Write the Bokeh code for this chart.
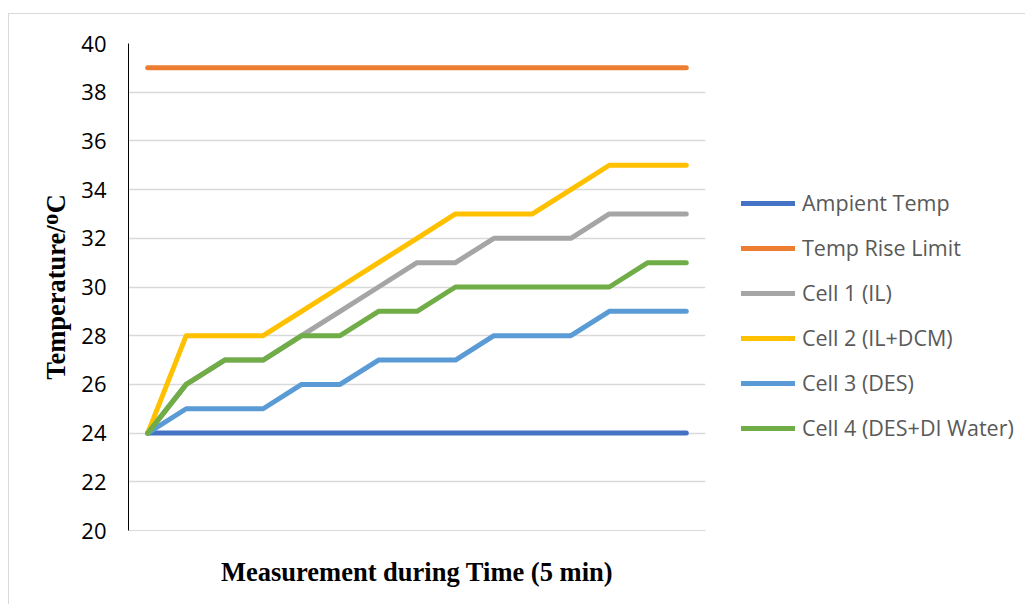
from bokeh.plotting import figure
from bokeh.models import Range1d, FixedTicker, Legend, LegendItem
from bokeh.embed import file_html
from bokeh.resources import INLINE

# ---- data ----
steps = list(range(15))
ambient = [24, 24, 24, 24, 24, 24, 24, 24, 24, 24, 24, 24, 24, 24, 24]
limit = [39, 39, 39, 39, 39, 39, 39, 39, 39, 39, 39, 39, 39, 39, 39]
cell1 = [24, 26, 27, 27, 28, 29, 30, 31, 31, 32, 32, 32, 33, 33, 33]
cell2 = [24, 28, 28, 28, 29, 30, 31, 32, 33, 33, 33, 34, 35, 35, 35]
cell3 = [24, 25, 25, 25, 26, 26, 27, 27, 27, 28, 28, 28, 29, 29, 29]
cell4 = [24, 26, 27, 27, 28, 28, 29, 29, 30, 30, 30, 30, 30, 31, 31]
names = ["Ampient Temp", "Temp Rise Limit", "Cell 1 (IL)", "Cell 2 (IL+DCM)",
         "Cell 3 (DES)", "Cell 4 (DES+DI Water)"]
colors = ["#4472C4", "#ED7D31", "#A5A5A5", "#FFC000", "#5B9BD5", "#70AD47"]
y_ticks = [20, 22, 24, 26, 28, 30, 32, 34, 36, 38, 40]
x_title = "Measurement during Time (5 min)"
y_title = "Temperature/\u1D3CC"

series = [ambient, limit, cell1, cell2, cell3, cell4]

p = figure(frame_width=577, frame_height=487, output_backend="svg",
           toolbar_location=None,
           x_range=Range1d(-0.5, 14.5), y_range=Range1d(20, 40),
           min_border_left=119, min_border_top=29, min_border_right=10,
           min_border_bottom=74)
p.styles = {"border-left": "1px solid #d9d9d9", "border-top": "1px solid #d9d9d9",
            "margin-top": "13px", "margin-left": "8px"}
p.outline_line_color = None
p.background_fill_color = "white"
p.border_fill_color = "white"

items = []
for vals, name, col in zip(series, names, colors):
    r = p.line(steps, vals, line_color=col, line_width=5,
               line_cap="round", line_join="round")
    items.append(LegendItem(label=name, renderers=[r]))

# axes
p.yaxis.ticker = FixedTicker(ticks=y_ticks)
p.yaxis.major_tick_line_color = None
p.yaxis.minor_tick_line_color = None
p.yaxis.axis_line_color = "#000000"
p.yaxis.axis_line_width = 1
p.yaxis.major_label_text_font = "Open Sans"
p.yaxis.major_label_text_font_size = "22px"
p.yaxis.major_label_text_color = "#000000"
p.yaxis.major_label_standoff = 16
p.yaxis.axis_label = y_title
p.yaxis.axis_label_text_font = "Liberation Serif"
p.yaxis.axis_label_text_font_style = "bold"
p.yaxis.axis_label_text_font_size = "26.5px"
p.yaxis.axis_label_text_color = "#000000"
p.yaxis.axis_label_standoff = 7

p.xaxis.ticker = FixedTicker(ticks=[])
p.xaxis.major_tick_line_color = None
p.xaxis.minor_tick_line_color = None
p.xaxis.axis_line_color = "#d9d9d9"
p.xaxis.axis_label = x_title
p.xaxis.axis_label_text_font = "Liberation Serif"
p.xaxis.axis_label_text_font_style = "bold"
p.xaxis.axis_label_text_font_size = "26.5px"
p.xaxis.axis_label_text_color = "#000000"
p.xaxis.axis_label_standoff = 26

p.xgrid.grid_line_color = None
p.ygrid.grid_line_color = "#d9d9d9"
p.ygrid.grid_line_width = 1.3

legend = Legend(items=items, location=(36, 88), padding=0, margin=0,
                border_line_color=None, background_fill_alpha=0,
                label_text_font="Open Sans", label_text_font_size="21.5px",
                label_text_color="#595959", glyph_width=54, glyph_height=20,
                label_height=20, label_standoff=7, spacing=16)
p.add_layout(legend, "right")

open("out.html", "w").write(file_html(p, INLINE))
